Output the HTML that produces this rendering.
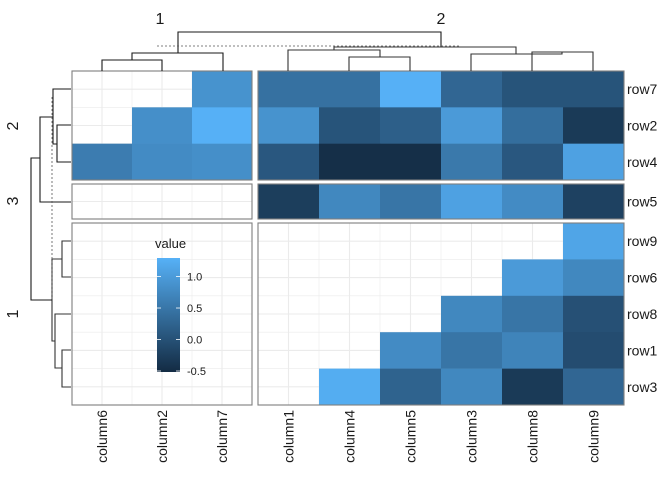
<!DOCTYPE html>
<html><head><meta charset="utf-8"><style>
html,body{margin:0;padding:0;background:#fff}
svg{display:block;font-family:"Liberation Sans",sans-serif}
</style></head><body>
<svg id="chart" width="672" height="480" viewBox="0 0 672 480"></svg>
<script>
const rowsAll = ["row7","row2","row4","row5","row9","row6","row8","row1","row3"];
const colsLeft = ["column6","column2","column7"];
const colsRight = ["column1","column4","column5","column3","column8","column9"];
// values: per row, left cols then right cols (null = NA)
const row7 = [null,null,0.9, 0.45,0.45,1.3,0.3,0.05,0.05];
const row2 = [null,0.85,1.3, 0.9,0.05,0.2,1.0,0.4,-0.3];
const row4 = [0.6,0.8,0.85, 0.1,-0.45,-0.45,0.55,0.1,1.1];
const row5 = [null,null,null, -0.25,0.75,0.5,1.1,0.8,-0.2];
const row9 = [null,null,null, null,null,null,null,null,1.15];
const row6 = [null,null,null, null,null,null,null,1.0,0.75];
const row8 = [null,null,null, null,null,null,0.75,0.5,0.0];
const row1 = [null,null,null, null,null,0.8,0.5,0.7,-0.05];
const row3 = [null,null,null, null,1.25,0.25,0.75,-0.3,0.3];
const values = [row7,row2,row4,row5,row9,row6,row8,row1,row3];
const legendTicks = [1.0,0.5,0.0,-0.5];
const legendLabels = ["1.0","0.5","0.0","-0.5"];
const vmin = -0.5, vmax = 1.31;

const NS="http://www.w3.org/2000/svg";
const svg=document.getElementById('chart');
function mk(tag,attrs,parent){const e=document.createElementNS(NS,tag);for(const k in attrs)e.setAttribute(k,attrs[k]);(parent||svg).appendChild(e);return e;}
function color(v){
  let t=(v-vmin)/(vmax-vmin);t=Math.max(0,Math.min(1,t));
  const a=[19,43,67],b=[86,177,247];
  return `rgb(${a.map((x,i)=>Math.round(x+(b[i]-x)*t)).join(',')})`;
}
const colPanels=[{x0:72,x1:252,cols:colsLeft,off:0},{x0:258,x1:624,cols:colsRight,off:3}];
const rowPanels=[{y0:71,y1:180,rows:[0,1,2]},{y0:184,y1:219,rows:[3]},{y0:223,y1:405,rows:[4,5,6,7,8]}];
function colX(p,i){const w=(p.x1-p.x0)/p.cols.length;return p.x0+i*w;}
function rowY(p,i){const h=(p.y1-p.y0)/p.rows.length;return p.y0+i*h;}

rowPanels.forEach(rp=>{colPanels.forEach(cp=>{
  const cw=(cp.x1-cp.x0)/cp.cols.length, rh=(rp.y1-rp.y0)/rp.rows.length;
  for(let i=0;i<=cp.cols.length*2;i++){const x=cp.x0+i*cw/2;const l=mk('line',{x1:x,x2:x,y1:rp.y0,y2:rp.y1,stroke:'#ebebeb','stroke-width':i%2?1.1:0.6});
    }
  for(let i=0;i<=rp.rows.length*2;i++){const y=rp.y0+i*rh/2;const l=mk('line',{x1:cp.x0,x2:cp.x1,y1:y,y2:y,stroke:'#ebebeb','stroke-width':i%2?1.1:0.6});
    }
  rp.rows.forEach((ri,r)=>{cp.cols.forEach((cn,c)=>{
    const v=values[ri][cp.off+c]; if(v===null)return;
    const rc=mk('rect',{x:colX(cp,c),y:rowY(rp,r),width:cw+0.3,height:rh+0.3,fill:color(v)});
    
    
  });});
  const b=mk('rect',{x:cp.x0,y:rp.y0,width:cp.x1-cp.x0,height:rp.y1-rp.y0,fill:'none',stroke:'#7f7f7f','stroke-width':1.1});
  
});});

rowPanels.forEach(rp=>rp.rows.forEach((ri,r)=>{
  const rh=(rp.y1-rp.y0)/rp.rows.length;
  const t=mk('text',{x:627,y:rowY(rp,r)+rh/2+5,'font-size':14,fill:'#1a1a1a'});t.textContent=rowsAll[ri];
  
}));
colPanels.forEach(cp=>cp.cols.forEach((cn,c)=>{
  const cw=(cp.x1-cp.x0)/cp.cols.length;const x=colX(cp,c)+cw/2+5;
  const t=mk('text',{x:x,y:410,'font-size':14,fill:'#1a1a1a','text-anchor':'end',transform:`rotate(-90 ${x} 410)`});t.textContent=cn;
  
}));

const dg=mk('g',{stroke:'#1a1a1a','stroke-width':1.1,fill:'none'});

function seg(pts,gray){const p=mk('polyline',{points:pts.map(q=>q.join(',')).join(' '),stroke:gray?'#333':'#1a1a1a'},dg);
  }
seg([[102,71],[102,60],[162,60],[162,71]]);
seg([[132,60],[132,53],[223,53],[223,71]]);
seg([[178,53],[178,32],[441,32],[441,47]]);
seg([[349,71],[349,57],[410,57],[410,71]],1);
seg([[288,71],[288,50],[380,50],[380,57]],1);
seg([[532,71],[532,52],[593,52],[593,71]],1);
seg([[471,71],[471,54],[562,54],[562,52]],1);
seg([[334,50],[334,47],[516,47],[516,54]],1);
const d1=mk('line',{x1:157,x2:460,y1:46,y2:46,stroke:'#555','stroke-dasharray':'2,2','stroke-width':0.8});

seg([[71,125],[57,125],[57,162],[71,162]]);
seg([[71,89],[53,89],[53,144],[57,144]]);
seg([[53,117],[40,117],[40,202],[71,202]]);
seg([[71,241],[62,241],[62,277],[71,277]],1);
seg([[71,350],[62,350],[62,387],[71,387]],1);
seg([[71,314],[55,314],[55,368],[62,368]],1);
seg([[62,259],[52,259],[52,341],[55,341]],1);
seg([[40,158],[31,158],[31,300],[52,300]]);
const d2=mk('line',{x1:52,x2:52,y1:97,y2:300,stroke:'#555','stroke-dasharray':'2,2','stroke-width':0.8});


[[160,24,'1',0],[441,24,'2',0],[18,126,'2',1],[18,201,'3',1],[18,314,'1',1]].forEach(([x,y,s,rot])=>{
  const t=mk('text',{x:x,y:y,'font-size':16,fill:'#1a1a1a','text-anchor':'middle'});
  if(rot)t.setAttribute('transform',`rotate(-90 ${x} ${y})`);
  t.textContent=s;
});

const lg=mk('g',{});
const lt=mk('text',{x:155,y:248,'font-size':13,fill:'#1a1a1a'},lg);lt.textContent='value';

const defs=mk('defs',{},lg);const gr=mk('linearGradient',{id:'lgd',x1:0,y1:1,x2:0,y2:0},defs);
mk('stop',{offset:0,'stop-color':color(vmin)},gr);mk('stop',{offset:1,'stop-color':color(vmax)},gr);
const by0=258,by1=372;
const bar=mk('rect',{x:157,y:by0,width:23,height:by1-by0,fill:'url(#lgd)'},lg);

function ly(v){return by1-(v-vmin)/(vmax-vmin)*(by1-by0)-1;}
legendTicks.forEach((v,i)=>{const y=ly(v);
  mk('line',{x1:157,x2:161,y1:y,y2:y,stroke:'#fff','stroke-width':0.8},lg);
  mk('line',{x1:176,x2:180,y1:y,y2:y,stroke:'#fff','stroke-width':0.8},lg);
  const t=mk('text',{x:187,y:y+4,'font-size':11,fill:'#1a1a1a'},lg);t.textContent=legendLabels[i];
  
});
</script>
</body></html>
